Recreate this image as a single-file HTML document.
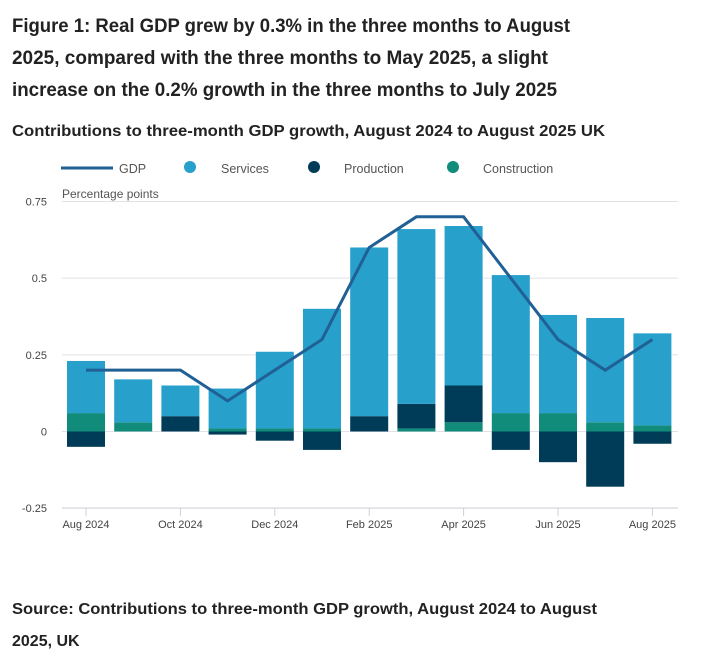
<!DOCTYPE html>
<html><head><meta charset="utf-8"><style>
html,body{margin:0;padding:0;background:#fff;}
svg{display:block;font-family:"Liberation Sans",sans-serif;}
</style></head><body>
<svg id="chart" width="720" height="670" viewBox="0 0 720 670">
<g fill="#222" font-weight="bold" font-size="19">
<text x="12" y="32" textLength="558" lengthAdjust="spacingAndGlyphs">Figure 1: Real GDP grew by 0.3% in the three months to August</text>
<text x="12" y="64" textLength="536" lengthAdjust="spacingAndGlyphs">2025, compared with the three months to May 2025, a slight</text>
<text x="12" y="96" textLength="545" lengthAdjust="spacingAndGlyphs">increase on the 0.2% growth in the three months to July 2025</text>
</g>
<text x="12" y="136" font-size="16" font-weight="bold" fill="#222" textLength="593" lengthAdjust="spacingAndGlyphs">Contributions to three-month GDP growth, August 2024 to August 2025 UK</text>
<g font-size="12.5" fill="#555">
<g><line x1="61" y1="168" x2="113" y2="168" stroke="#206095" stroke-width="3"/><text x="119" y="173">GDP</text></g>
<g><circle cx="190" cy="167" r="6" fill="#27a0cc"/><text x="221" y="173">Services</text></g>
<g><circle cx="314" cy="167" r="6" fill="#003c57"/><text x="344" y="173">Production</text></g>
<g><circle cx="453" cy="167" r="6" fill="#118c7b"/><text x="483" y="173">Construction</text></g>
</g>
<text x="62" y="198" font-size="12" fill="#555">Percentage points</text>
<g id="grid"></g><g id="bars"></g><g id="line"></g><g id="xaxis"></g>
<g font-size="16" font-weight="bold" fill="#222">
<text x="12" y="614" textLength="585" lengthAdjust="spacingAndGlyphs">Source: Contributions to three-month GDP growth, August 2024 to August</text>
<text x="12" y="646">2025, UK</text>
</g>
</svg>
<script>
const categories=["Aug 2024","Sep 2024","Oct 2024","Nov 2024","Dec 2024","Jan 2025","Feb 2025","Mar 2025","Apr 2025","May 2025","Jun 2025","Jul 2025","Aug 2025"];
const services=[0.17,0.14,0.10,0.13,0.25,0.39,0.55,0.57,0.52,0.45,0.32,0.34,0.30];
const production=[-0.05,0,0.05,-0.01,-0.03,-0.06,0.05,0.08,0.12,-0.06,-0.10,-0.18,-0.04];
const construction=[0.06,0.03,0,0.01,0.01,0.01,0,0.01,0.03,0.06,0.06,0.03,0.02];
const gdp=[0.2,0.2,0.2,0.1,0.2,0.3,0.6,0.7,0.7,0.5,0.3,0.2,0.3];
const yTicks=[0.75,0.5,0.25,0,-0.25];
const yTickLabels=["0.75","0.5","0.25","0","-0.25"];
const xTickIdx=[0,2,4,6,8,10,12];
const NS="http://www.w3.org/2000/svg";
const y=v=>431.5-v*306.7;
const x=i=>86+i*47.2;
const BW=38;
function mk(tag,attrs,parent){const e=document.createElementNS(NS,tag);for(const k in attrs)e.setAttribute(k,attrs[k]);parent.appendChild(e);return e;}
const grid=document.getElementById('grid');
yTicks.forEach((t,i)=>{
 const l=mk('line',{x1:62,x2:678,y1:y(t),y2:y(t),stroke:'#e2e2e8','stroke-width':1},grid);
 
 
 const tx=mk('text',{x:47,y:y(t)+4,'text-anchor':'end','font-size':11,fill:'#444'},grid);
 tx.textContent=yTickLabels[i];
 
 
});
const bars=document.getElementById('bars');
const cols={construction:'#118c7b',production:'#003c57',services:'#27a0cc'};
categories.forEach((c,i)=>{
 let pos=0,neg=0;
 [['construction',construction[i]],['production',production[i]],['services',services[i]]].forEach(([k,v])=>{
  let a,b;
  if(v>=0){a=pos;b=pos+v;pos=b;}else{a=neg;b=neg+v;neg=b;}
  const top=Math.min(y(a),y(b)),h=Math.abs(y(a)-y(b));
  const r=mk('rect',{x:x(i)-BW/2,y:top,width:BW,height:h,fill:cols[k]},bars);
  
  
 });
});
const lg=document.getElementById('line');
const p=mk('polyline',{points:gdp.map((v,i)=>x(i)+','+y(v)).join(' '),fill:'none',stroke:'#206095','stroke-width':3,'stroke-linejoin':'miter'},lg);


const xa=document.getElementById('xaxis');
const ax=mk('line',{x1:62,x2:678,y1:508,y2:508,stroke:'#d0d0d8'},xa);


xTickIdx.forEach(i=>{
 const t=mk('line',{x1:x(i),x2:x(i),y1:508,y2:516,stroke:'#d0d0d8'},xa);
 
 
 const tx=mk('text',{x:x(i),y:528,'text-anchor':'middle','font-size':11,fill:'#444'},xa);
 tx.textContent=categories[i];
 
 
});
</script>
</body></html>
